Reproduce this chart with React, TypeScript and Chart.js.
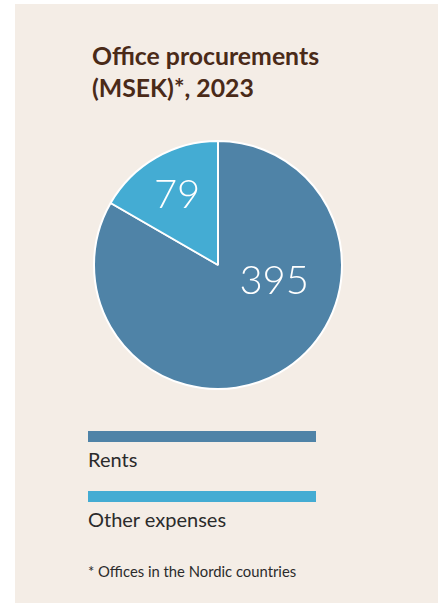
import React, { useEffect, useRef } from "react";
import { Chart, registerables } from "chart.js";

Chart.register(...registerables);

const categories = ["Rents", "Other expenses"];
const values = [395, 79];
const colors = ["#4f83a7", "#44acd3"];
const title = ["Office procurements", "(MSEK)*, 2023"];
const footnote = "* Offices in the Nordic countries";

// label placement per slice: angle offset from slice middle (rad) and radius fraction
const labelPlacement = [
  { angle: -0.78, r: 0.47 },
  { angle: 0, r: 0.66 },
];

const valueLabelPlugin = {
  id: "valueLabels",
  afterDatasetsDraw(chart: any) {
    const { ctx } = chart;
    const meta = chart.getDatasetMeta(0);
    meta.data.forEach((arc: any, i: number) => {
      const p = arc.getProps(["x", "y", "startAngle", "endAngle", "outerRadius"], true);
      const mid = (p.startAngle + p.endAngle) / 2 + labelPlacement[i].angle;
      const rr = p.outerRadius * labelPlacement[i].r;
      const x = p.x + Math.cos(mid) * rr;
      const y = p.y + Math.sin(mid) * rr;
      ctx.save();
      ctx.fillStyle = "#ffffff";
      ctx.font = "300 40px Lato";
      ctx.textAlign = "center";
      ctx.textBaseline = "middle";
      ctx.fillText(String(values[i]), x, y + 1);
      ctx.restore();
    });
  },
};

export default function App() {
  const ref = useRef<HTMLCanvasElement>(null);
  useEffect(() => {
    if (!ref.current) return;
    const chart = new Chart(ref.current, {
      type: "pie",
      data: {
        labels: categories,
        datasets: [
          {
            data: values,
            backgroundColor: colors,
            borderColor: "#ffffff",
            borderWidth: 2,
          },
        ],
      },
      options: {
        animation: false,
        responsive: false,
        maintainAspectRatio: false,
        layout: { padding: 0 },
        plugins: {
          legend: { display: false },
          tooltip: { enabled: false },
        },
      },
      plugins: [valueLabelPlugin],
    });
    return () => chart.destroy();
  }, []);

  return (
    <div style={{ position: "absolute", left: 0, top: 0, width: 439, height: 603, background: "#ffffff", overflow: "hidden" }}>
      <div style={{ position: "absolute", left: 15, top: 4, width: 423, height: 599, background: "#f4ede6" }} />
      <div
        style={{
          position: "absolute",
          left: 92,
          top: 40,
          fontFamily: "Lato",
          fontWeight: 700,
          fontSize: 24.8,
          lineHeight: "32px",
          color: "#4a2a18",
          whiteSpace: "nowrap",
        }}
      >
        {title.map((t) => (
          <div key={t}>{t}</div>
        ))}
      </div>
      <canvas
        ref={ref}
        width={250}
        height={250}
        style={{ position: "absolute", left: 93, top: 140, width: 250, height: 250 }}
      />
      {categories.map((c, i) => (
        <div key={c} style={{ position: "absolute", left: 88, top: 431 + i * 60 }}>
          <div style={{ width: 228, height: 11, background: colors[i] }} />
          <div
            style={{
              marginTop: 5,
              fontFamily: "Lato",
              fontWeight: 400,
              fontSize: 20,
              lineHeight: "24px",
              color: "#2b2b2b",
              whiteSpace: "nowrap",
            }}
          >
            {c}
          </div>
        </div>
      ))}
      <div
        style={{
          position: "absolute",
          left: 88,
          top: 561,
          fontFamily: "Lato",
          fontSize: 14.8,
          lineHeight: "20px",
          color: "#2b2b2b",
          whiteSpace: "nowrap",
        }}
      >
        {footnote}
      </div>
    </div>
  );
}
